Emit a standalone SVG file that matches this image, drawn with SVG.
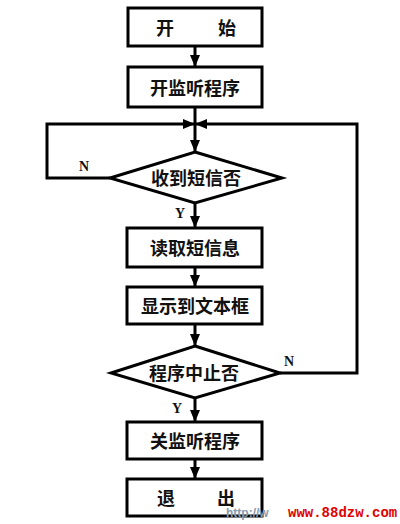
<svg xmlns="http://www.w3.org/2000/svg" width="400" height="524" viewBox="0 0 400 524">
<style>
.box{fill:#fff;stroke:#000;stroke-width:3}
.ln{fill:none;stroke:#000;stroke-width:3}
.t{font-family:"Noto Sans CJK SC","Noto Sans",sans-serif;font-size:18px;font-weight:bold;text-anchor:middle;dominant-baseline:central;fill:#111}
.lb{font-family:"Liberation Serif",serif;font-size:14px;font-weight:bold;text-anchor:middle;dominant-baseline:central;fill:#111}
</style>
<defs>
<marker id="ah" viewBox="0 0 12 10" refX="12" refY="5" markerWidth="12" markerHeight="10" markerUnits="userSpaceOnUse" orient="auto">
<path d="M0,0 L12,5 L0,10 Z" fill="#000"/>
</marker>
</defs>
<rect width="400" height="524" fill="#fff"/>
<g id="connectors">
<path class="ln" d="M195,46 V67" marker-end="url(#ah)"/>
<path class="ln" d="M195,107 V152" marker-end="url(#ah)"/>
<path class="ln" d="M110,178 H47 V124 H195" marker-end="url(#ah)"/>
<path class="ln" d="M280,373 H357 V124 H195" marker-end="url(#ah)"/>
<path class="ln" d="M195,203 V228" marker-end="url(#ah)"/>
<path class="ln" d="M195,267 V287" marker-end="url(#ah)"/>
<path class="ln" d="M195,324 V346" marker-end="url(#ah)"/>
<path class="ln" d="M195,398 V422" marker-end="url(#ah)"/>
<path class="ln" d="M195,459 V479" marker-end="url(#ah)"/>
<text class="lb" x="84" y="166">N</text>
<text class="lb" x="180" y="213">Y</text>
<text class="lb" x="289" y="361">N</text>
<text class="lb" x="177" y="408">Y</text>
</g>
<g id="start">
<rect class="box" x="128" y="8" width="134" height="38"/>
<text class="t" x="165" y="27">开</text>
<text class="t" x="227" y="27">始</text>
</g>
<g id="openListen">
<rect class="box" x="128" y="67" width="134" height="40"/>
<text class="t" x="195" y="87">开监听程序</text>
</g>
<g id="receivedSms">
<polygon class="box" points="195,152 282,178 195,203 110,178"/>
<text class="t" x="196" y="177">收到短信否</text>
</g>
<g id="readSms">
<rect class="box" x="127" y="228" width="135" height="39"/>
<text class="t" x="195" y="247">读取短信息</text>
</g>
<g id="showText">
<rect class="box" x="127" y="287" width="135" height="37"/>
<text class="t" x="195" y="305">显示到文本框</text>
</g>
<g id="programStop">
<polygon class="box" points="195,346 280,373 195,398 111,373"/>
<text class="t" x="194" y="372">程序中止否</text>
</g>
<g id="closeListen">
<rect class="box" x="127" y="422" width="135" height="37"/>
<text class="t" x="195" y="440">关监听程序</text>
</g>
<g id="exit">
<rect class="box" x="127" y="479" width="135" height="37"/>
<text class="t" x="166" y="497">退</text>
<text class="t" x="226" y="497">出</text>
</g>
<g id="watermark">
<text x="226" y="517" font-family="Liberation Sans,sans-serif" font-size="12" font-weight="bold" fill="#8899aa">http://w</text>
<text x="288" y="517" font-family="Liberation Mono,monospace" font-size="14" font-weight="bold" fill="#e00000">www.88dzw.com</text>
</g>
</svg>
